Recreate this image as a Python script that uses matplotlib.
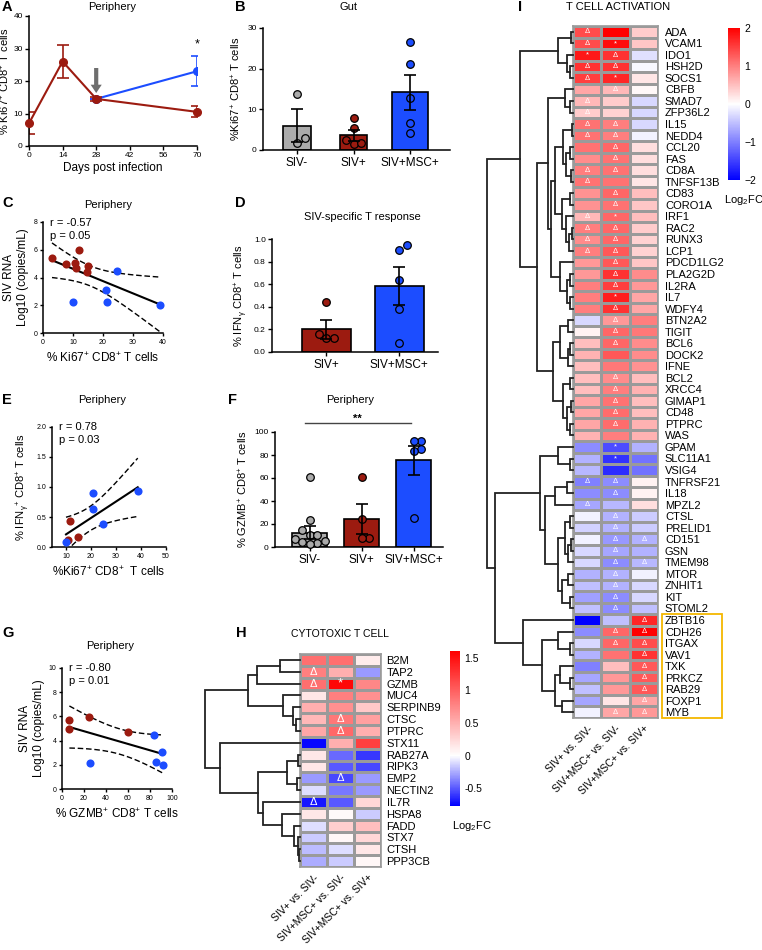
import numpy as np
import matplotlib
matplotlib.use("Agg")
import matplotlib.pyplot as plt
from matplotlib.colors import LinearSegmentedColormap, Normalize
from matplotlib.cm import ScalarMappable
from matplotlib.patches import Rectangle

plt.rcParams['font.family'] = ['Liberation Sans', 'DejaVu Sans']
plt.rcParams['mathtext.fontset'] = 'custom'
plt.rcParams['mathtext.rm'] = 'Liberation Sans'
plt.rcParams['mathtext.it'] = 'Liberation Sans:italic'
plt.rcParams['mathtext.bf'] = 'Liberation Sans:bold'
plt.rcParams['mathtext.default'] = 'regular'
plt.rcParams['axes.linewidth'] = 1.1

RED = '#9c1b10'
BLUE = '#1c4dff'
GREY = '#ababab'

# ---- A: Ki67 over time
A_days = [0, 14, 28, 70]
A_siv = [7, 26, 14.5, 10.5]
A_siv_sem = [3.4, 5, 0.5, 1.7]
A_msc_days = [28, 70]
A_msc = [14.5, 23]
A_msc_sem = [0, 4.6]

# ---- bar panels
groups3 = ['SIV-', 'SIV+', 'SIV+MSC+']
B_means = [6.0, 3.6, 14.2]
B_sems = [4.0, 1.4, 4.3]
B_points = [[13.7, 1.8, 2.9], [7.8, 5.3, 2.5, 1.5, 1.6], [26.5, 21.1, 12.9, 6.7, 4.1]]

D_groups = ['SIV+', 'SIV+MSC+']
D_means = [0.2, 0.585]
D_sems = [0.085, 0.165]
D_points = [[0.44, 0.16, 0.12, 0.12], [0.95, 0.90, 0.64, 0.38, 0.08]]

F_means = [12.5, 24.2, 75.5]
F_sems = [5.5, 13.2, 12.5]
F_points = [[60.9, 23.2, 15.1, 10.1, 10.1, 7.2, 5.2, 4.3, 3.5, 2.9],
            [61, 24, 7.5, 7.5],
            [92.5, 92, 85.5, 83.5, 25.5]]

# ---- correlation panels
C_red_x = [3, 7.6, 10.6, 11, 12.1, 15.1, 14.7]
C_red_y = [5.4, 4.96, 5.06, 4.65, 5.97, 4.82, 4.42]
C_blue_x = [10, 21, 21.2, 24.8, 38.9]
C_blue_y = [2.22, 3.1, 2.2, 4.5, 2.0]
C_stats = "r = -0.57\np = 0.05"

E_red_x = [11.7, 10.7, 14.8]
E_red_y = [0.44, 0.12, 0.16]
E_blue_x = [10, 20.7, 20.8, 24.7, 38.7]
E_blue_y = [0.08, 0.9, 0.635, 0.38, 0.94]
E_stats = "r = 0.78\np = 0.03"

G_red_x = [6.7, 6.7, 24.2, 60]
G_red_y = [5.73, 4.99, 5.95, 4.71]
G_blue_x = [25.2, 83.3, 91, 85, 91.8]
G_blue_y = [2.18, 4.43, 3.06, 2.2, 2.0]
G_stats = "r = -0.80\np = 0.01"

# two-sided 95% t critical values (df = n - 2)
T_CRIT = {10: 2.228, 6: 2.447, 7: 2.365}

# ---- heatmaps
comparisons = ['SIV+ vs. SIV-', 'SIV+MSC+ vs. SIV-', 'SIV+MSC+ vs. SIV+']

H_genes = ['B2M', 'TAP2', 'GZMB', 'MUC4', 'SERPINB9', 'CTSC', 'PTPRC', 'STX11', 'RAB27A',
           'RIPK3', 'EMP2', 'NECTIN2', 'IL7R', 'HSPA8', 'FADD', 'STX7', 'CTSH', 'PPP3CB']
H_values = [
    [0.9, 0.9, 0.12], [0.8, 0.5, -0.3], [0.9, 1.55, 0.75], [0.15, 0.8, 0.7],
    [0.5, 0.7, 0.35], [0.45, 0.85, 0.6], [0.55, 0.95, 0.5], [-0.75, 0.5, 1.2],
    [0.15, -0.45, -0.6], [0.15, -0.5, -0.55], [-0.3, -0.55, -0.3], [-0.1, -0.4, -0.3],
    [-0.7, -0.5, 0.25], [0.15, 0.04, -0.15], [-0.1, 0.3, 0.4], [-0.15, 0.05, 0.25],
    [-0.2, -0.1, 0.15], [-0.25, -0.15, 0.05],
]
H_marks = ["   ", "Δ  ", "Δ* ", "   ", "   ", " Δ ", " Δ ", "   ", "   ",
           "   ", " Δ ", "   ", "Δ  ", "   ", "   ", "   ", "   ", "   "]
# dendrogram: (left, right, height)
H_tree = (((((0, 1, 20), 2, 43), (3, (4, (5, 6, 4), 7), 17), 52)),
          (7, (((8, 9, 2), (10, 11, 3), 13),
               (12, (13, (14, (15, (16, 17, 1), 2), 6), 18), 37), 42), 80), 95)

I_genes = ['ADA', 'VCAM1', 'IDO1', 'HSH2D', 'SOCS1', 'CBFB', 'SMAD7', 'ZFP36L2', 'IL15', 'NEDD4',
           'CCL20', 'FAS', 'CD8A', 'TNFSF13B', 'CD83', 'CORO1A', 'IRF1', 'RAC2', 'RUNX3', 'LCP1',
           'PDCD1LG2', 'PLA2G2D', 'IL2RA', 'IL7', 'WDFY4', 'BTN2A2', 'TIGIT', 'BCL6', 'DOCK2', 'IFNE',
           'BCL2', 'XRCC4', 'GIMAP1', 'CD48', 'PTPRC', 'WAS', 'GPAM', 'SLC11A1', 'VSIG4', 'TNFRSF21',
           'IL18', 'MPZL2', 'CTSL', 'PRELID1', 'CD151', 'GSN', 'TMEM98', 'MTOR', 'ZNHIT1', 'KIT',
           'STOML2', 'ZBTB16', 'CDH26', 'ITGAX', 'VAV1', 'TXK', 'PRKCZ', 'RAB29', 'FOXP1', 'MYB']
I_values = [
    [1.4, 2.0, 0.4], [1.4, 1.9, 0.45], [1.8, 1.6, -0.25], [1.6, 1.6, -0.05], [1.5, 1.7, 0.2],
    [0.7, 0.55, 0.05], [0.55, 0.4, -0.3], [0.4, 0.35, -0.3], [1.1, 1.0, -0.3], [1.1, 1.0, -0.1],
    [1.1, 1.2, 0.25], [0.9, 1.1, 0.25], [1.0, 1.1, 0.25], [1.1, 1.1, 0.2], [0.85, 1.2, 0.5],
    [0.85, 1.1, 0.45], [0.55, 1.2, 0.5], [1.0, 1.2, 0.4], [0.9, 1.2, 0.35], [1.0, 1.3, 0.35],
    [0.8, 1.3, 0.45], [0.8, 1.6, 0.9], [1.0, 1.5, 0.8], [1.0, 1.75, 0.7], [1.0, 1.6, 0.7],
    [-0.3, 0.8, 1.0], [0.1, 1.2, 1.05], [0.5, 1.2, 0.9], [0.6, 1.3, 0.9], [0.5, 1.05, 0.85],
    [0.5, 0.9, 0.5], [0.5, 1.0, 0.6], [0.7, 1.1, 0.5], [0.7, 1.15, 0.5], [0.7, 1.15, 0.6],
    [0.6, 1.0, 0.6], [-0.9, -1.4, -0.6], [-0.6, -1.6, -1.1], [-0.55, -1.65, -1.1], [-1.0, -0.9, 0.1],
    [-0.9, -0.9, 0.1], [-0.7, -0.55, 0.25], [-0.1, -0.6, -0.4], [-0.35, -0.6, -0.4], [-0.1, -0.8, -0.6],
    [-0.3, -0.7, -0.6], [-0.3, -0.9, -0.55], [-0.6, -0.6, -0.1], [-0.5, -0.6, -0.3], [-0.75, -0.9, -0.3],
    [-0.5, -0.9, -0.5], [-2.0, -0.5, 1.7], [-0.9, 1.2, 2.0], [-0.3, 1.2, 1.4], [-0.6, 1.1, 1.6],
    [-1.0, 0.5, 1.3], [-0.7, 0.8, 1.3], [-0.5, 0.8, 1.3], [-0.7, 0.2, 0.7], [-0.1, 0.7, 0.8],
]
I_marks = ["Δ  ", "Δ* ", "*Δ ", "ΔΔ ", "Δ* ", " Δ ", "Δ  ", "Δ  ", "ΔΔ ", "ΔΔ ",
           " Δ ", " Δ ", "ΔΔ ", "Δ  ", " Δ ", " Δ ", "Δ* ", "ΔΔ ", "ΔΔ ", "ΔΔ ",
           " Δ ", " Δ ", " Δ ", " * ", " Δ ", " Δ ", " Δ ", " Δ ", "   ", "   ",
           " Δ ", " Δ ", " Δ ", " Δ ", " Δ ", "   ", " * ", " * ", "   ", "ΔΔ ",
           " Δ ", "Δ  ", " Δ ", " Δ ", " ΔΔ", " Δ ", " ΔΔ", " Δ ", " Δ ", " Δ ",
           " Δ ", "  Δ", " ΔΔ", " ΔΔ", "  Δ", "  Δ", "  Δ", "  Δ", "  Δ", " ΔΔ"]
_I_red = ((((0, 1, 2), (2, (3, 4, 3), 6), 15)),
          (((5, (6, 7, 3), 8),
            ((((8, 9, 1), ((10, 11, 3), (12, 13, 2), 7), 10),
              ((14, 15, 3), (16, ((17, 18, 1), 19, 4), 7), 11), 18),
             (20, ((21, 22, 3), (23, 24, 3), 6), 13), 22), 25),
           ((((25, 26, 5), ((27, 28, 3), 29, 5), 13)),
            ((30, 31, 3), ((32, 33, 2), (34, 35, 3), 6), 10), 20), 36), 53)
_I_blue = ((36, (37, 38, 3), 15),
           (((39, 40, 6), 41, 18),
            (((42, 43, 3), ((44, 45, 2), 46, 5), 8), ((47, 48, 5), (49, 50, 3), 11), 15), 28), 33)
_I_box = (51, ((52, (53, 54, 3), 15),
               ((55, (56, 57, 3), 13), (58, 59, 11), 18), 31), 50)
I_tree = (_I_red, (_I_blue, _I_box, 78), 86)

W, H = 762, 950
fig = plt.figure(figsize=(W / 100, H / 100), dpi=100)


def px_ax(x0, y0, x1, y1):
    return fig.add_axes([x0 / W, 1 - y1 / H, (x1 - x0) / W, (y1 - y0) / H])


def px_text(x, y, s, **kw):
    fig.text(x / W, 1 - y / H, s, **kw)


def style(ax, fs):
    for s in ['top', 'right']:
        ax.spines[s].set_visible(False)
    ax.tick_params(labelsize=fs, length=3, width=1, pad=1.5)


def swarm(ys, xpu, ypu, d=7.6):
    # simple beeswarm in pixel space, returns x offsets in data units
    placed = []
    offs = np.zeros(len(ys))
    cand = [0]
    for k in range(1, 12):
        cand += [k * d * 0.5, -k * d * 0.5]
    for idx in np.argsort(ys):
        yp = ys[idx] * ypu
        for xo in cand:
            if all((xo - px) ** 2 + (yp - py) ** 2 >= (d * 0.95) ** 2 for px, py in placed):
                break
        placed.append((xo, yp))
        offs[idx] = xo / xpu
    return offs


def bar_panel(ax, labels, means, sems, points, colors, widths, xlim, ylim):
    x = np.arange(len(means))
    ax.set_xlim(*xlim)
    ax.set_ylim(*ylim)
    ax.bar(x, means, width=widths, color=colors, edgecolor='black', linewidth=1.2, zorder=1)
    ax.errorbar(x, means, yerr=sems, fmt='none', ecolor='black', elinewidth=1.2,
                capsize=4, capthick=1.2, zorder=4)
    pos = ax.get_position()
    xpu = pos.width * W / (xlim[1] - xlim[0])
    ypu = pos.height * H / (ylim[1] - ylim[0])
    for i, pts in enumerate(points):
        pts = np.array(pts, dtype=float)
        off = swarm(pts, xpu, ypu)
        ax.scatter(i + off, pts, s=30, color=colors[i], edgecolor='black', linewidth=0.9,
                   zorder=3, clip_on=False)
    style(ax, 6)
    ax.set_xticks(x, labels, fontsize=8.5)
    ax.tick_params(axis='x', length=3, pad=2)


def corr_panel(ax, xr, yr, xb, yb, stats, xlim, ylim):
    x = np.r_[xr, xb]
    y = np.r_[yr, yb]
    n = len(x)
    slope, icpt = np.polyfit(x, y, 1)
    xs = np.linspace(x.min(), x.max(), 60)
    fit = slope * xs + icpt
    s = np.sqrt(np.sum((y - (slope * x + icpt)) ** 2) / (n - 2))
    sxx = np.sum((x - x.mean()) ** 2)
    hw = T_CRIT[n - 2] * s * np.sqrt(1 / n + (xs - x.mean()) ** 2 / sxx)
    ax.plot(xs, fit, color='black', lw=1.5, zorder=2)
    ax.plot(xs, fit + hw, color='black', lw=1, ls=(0, (4, 2)), zorder=2)
    ax.plot(xs, fit - hw, color='black', lw=1, ls=(0, (4, 2)), zorder=2)
    ax.scatter(xr, yr, s=34, color=RED, zorder=3, clip_on=False, linewidths=0)
    ax.scatter(xb, yb, s=34, color=BLUE, zorder=3, clip_on=False, linewidths=0)
    ax.set_xlim(*xlim)
    ax.set_ylim(*ylim)
    ax.text(0.06, 1.04, stats, transform=ax.transAxes, va='top', fontsize=8, linespacing=1.4)
    style(ax, 5)
    ax.tick_params(length=2.5)


def draw_tree(ax, node):
    if isinstance(node, int):
        return node + 0.5, 0
    left, right, h = node
    yl, hl = draw_tree(ax, left)
    yr, hr = draw_tree(ax, right)
    ax.plot([hl, h, h, hr], [yl, yl, yr, yr], color='#222222', lw=1.3, clip_on=False,
            solid_joinstyle='miter')
    return (yl + yr) / 2, h


def heat_panel(x0, y0, x1, y1, values, genes, marks, tree, dendro_w, cmap, norm,
               mark_fs, star_fs, gene_pad):
    ax = px_ax(x0, y0, x1, y1)
    vals = np.array(values)
    n = len(genes)
    ax.pcolormesh(np.arange(4), np.arange(n + 1), vals, cmap=cmap, norm=norm,
                  edgecolors='#9a9a9a', linewidth=1.0)
    ax.set_xlim(0, 3)
    ax.set_ylim(n, 0)
    for sp in ax.spines.values():
        sp.set_color('#9a9a9a')
        sp.set_linewidth(1.2)
    for r, row in enumerate(marks):
        for c, ch in enumerate(row):
            if ch != ' ':
                ax.text(c + 0.5, r + 0.52, ch, color='white', ha='center', va='center',
                        fontsize=mark_fs if ch == 'Δ' else star_fs)
    ax.yaxis.tick_right()
    ax.set_yticks(np.arange(n) + 0.5, genes, fontsize=8)
    ax.tick_params(axis='y', length=0, pad=gene_pad)
    ax.set_xticks(np.arange(3) + 0.5, comparisons, rotation=45, ha='right',
                  rotation_mode='anchor', fontsize=7.5)
    ax.tick_params(axis='x', length=0, pad=4)
    dx = px_ax(x0 - dendro_w, y0, x0, y1)
    draw_tree(dx, tree)
    dx.set_xlim(dendro_w, 0)
    dx.set_ylim(n, 0)
    dx.axis('off')
    return ax


# ---------------- A
ax = px_ax(29, 16, 197, 146)
ax.errorbar(A_msc_days, A_msc, yerr=A_msc_sem, fmt='none', ecolor=BLUE, elinewidth=1.2,
            capsize=4, capthick=1.2)
ax.plot(A_msc_days, A_msc, color=BLUE, marker='o', ms=5.5, lw=1.5)
ax.errorbar(A_days, A_siv, yerr=A_siv_sem, fmt='none', ecolor=RED, elinewidth=1.2,
            capsize=4, capthick=1.2)
ax.plot(A_days, A_siv, color=RED, marker='o', ms=5.5, lw=1.5, clip_on=False, zorder=3)
ax.annotate('', xy=(28, 16.3), xytext=(28, 24),
            arrowprops=dict(facecolor='#6e6e6e', edgecolor='none', width=3, headwidth=8, headlength=6))
ax.text(70, 30.3, '*', ha='center', fontsize=9)
ax.set_xlim(0, 70)
ax.set_ylim(0, 40)
ax.set_xticks(range(0, 71, 14))
ax.set_yticks(range(0, 41, 10))
style(ax, 6)
ax.set_xlabel('Days post infection', fontsize=8.5, labelpad=2)
ax.set_ylabel('% Ki67$^{+}$ CD8$^{+}$ T cells', fontsize=8, labelpad=1)

# ---------------- B
ax = px_ax(263, 28, 450, 150)
bar_panel(ax, groups3, B_means, B_sems, B_points, [GREY, RED, BLUE], [0.5, 0.48, 0.63],
          (-0.6, 2.7), (0, 30))
ax.set_yticks(range(0, 31, 10))
ax.set_ylabel('%Ki67$^{+}$ CD8$^{+}$ T cells', fontsize=8, labelpad=3)

# ---------------- C
ax = px_ax(43, 222, 163, 333)
corr_panel(ax, C_red_x, C_red_y, C_blue_x, C_blue_y, C_stats, (0, 40), (0, 8))
ax.set_xticks(range(0, 41, 10))
ax.set_yticks(range(0, 9, 2))
ax.set_xlabel('% Ki67$^{+}$ CD8$^{+}$ T cells', fontsize=8.5, labelpad=4)
ax.set_ylabel('SIV RNA\nLog10 (copies/mL)', fontsize=8.5, labelpad=3, multialignment='center')

# ---------------- D
ax = px_ax(272, 239, 438, 352)
bar_panel(ax, D_groups, D_means, D_sems, D_points, [RED, BLUE], [0.67, 0.67],
          (-0.74, 1.53), (0, 1))
ax.set_yticks(np.arange(0, 1.01, 0.2), ['0.0', '0.2', '0.4', '0.6', '0.8', '1.0'])
ax.set_ylabel('% IFN$_{\\gamma}$ CD8$^{+}$ T cells', fontsize=8, labelpad=3)

# ---------------- E
ax = px_ax(52, 427, 166, 547)
corr_panel(ax, E_red_x, E_red_y, E_blue_x, E_blue_y, E_stats, (4.4, 50), (0, 2))
ax.set_xticks(range(10, 51, 10))
ax.set_yticks([0, 0.5, 1.0, 1.5, 2.0], ['0.0', '0.5', '1.0', '1.5', '2.0'])
ax.set_xlabel('%Ki67$^{+}$ CD8$^{+}$  T cells', fontsize=8.5, labelpad=4)
ax.set_ylabel('% IFN$_{\\gamma}$$^{+}$ CD8$^{+}$ T cells', fontsize=8, labelpad=3)

# ---------------- F
ax = px_ax(275, 432, 443, 547)
bar_panel(ax, groups3, F_means, F_sems, F_points, [GREY, RED, BLUE], [0.67, 0.67, 0.67],
          (-0.67, 2.56), (0, 100))
ax.set_yticks(range(0, 101, 20))
ax.set_ylabel('% GZMB$^{+}$ CD8$^{+}$ T cells', fontsize=8, labelpad=3)
ax.plot([-0.1, 1.94], [107.8, 107.8], color='#444444', lw=1, clip_on=False)
ax.text(0.92, 107.5, '**', ha='center', va='bottom', fontsize=8, fontweight='bold')

# ---------------- G
ax = px_ax(62, 668, 172, 789)
corr_panel(ax, G_red_x, G_red_y, G_blue_x, G_blue_y, G_stats, (0, 100), (0, 10))
ax.set_xticks(range(0, 101, 20))
ax.set_yticks(range(0, 11, 2))
ax.set_xlabel('% GZMB$^{+}$ CD8$^{+}$ T cells', fontsize=8.5, labelpad=4)
ax.set_ylabel('SIV RNA\nLog10 (copies/mL)', fontsize=8.5, labelpad=3, multialignment='center')

# ---------------- H heatmap
h_min, h_max = -0.77, 1.6
h_cmap = LinearSegmentedColormap.from_list(
    'h', [(0, '#0000ff'), (-h_min / (h_max - h_min), '#ffffff'), (1, '#ff0000')])
h_norm = Normalize(h_min, h_max)
heat_panel(300, 654, 381, 867, H_values, H_genes, H_marks, H_tree, 95, h_cmap, h_norm,
           8, 9.5, 4)
cax = px_ax(450, 651, 460, 806)
cb = fig.colorbar(ScalarMappable(norm=h_norm, cmap=h_cmap), cax=cax)
cb.outline.set_visible(False)
cb.set_ticks([1.5, 1, 0.5, 0, -0.5], labels=['1.5', '1', '0.5', '0', '-0.5'])
cax.tick_params(length=0, labelsize=7.5, pad=3)
px_text(452, 826, 'Log$_{2}$FC', fontsize=8, va='center')

# ---------------- I heatmap
i_cmap = LinearSegmentedColormap.from_list('i', ['#0000ff', '#ffffff', '#ff0000'])
i_norm = Normalize(-2, 2)
heat_panel(573, 26, 658, 718, I_values, I_genes, I_marks, I_tree, 90, i_cmap, i_norm,
           5.5, 5.5, 5)
cax = px_ax(728, 28, 740, 180)
cb = fig.colorbar(ScalarMappable(norm=i_norm, cmap=i_cmap), cax=cax)
cb.outline.set_visible(False)
cb.set_ticks([2, 1, 0, -1, -2])
cax.tick_params(length=0, labelsize=7.5, pad=3)
px_text(724, 200, 'Log$_{2}$FC', fontsize=8, va='center')
fig.patches.append(Rectangle((662 / W, 1 - 718 / H), (722 - 662) / W, (718 - 614) / H,
                             transform=fig.transFigure, fill=False, edgecolor='#f5b700', lw=1.3))

# ---------------- titles and letters
px_text(112, 7, 'Periphery', fontsize=8, ha='center', va='center')
px_text(348, 7, 'Gut', fontsize=8, ha='center', va='center')
px_text(108, 205, 'Periphery', fontsize=8, ha='center', va='center')
px_text(362, 217, 'SIV-specific T response', fontsize=8, ha='center', va='center')
px_text(102, 400, 'Periphery', fontsize=8, ha='center', va='center')
px_text(350, 400, 'Periphery', fontsize=8, ha='center', va='center')
px_text(110, 646, 'Periphery', fontsize=8, ha='center', va='center')
px_text(291, 634, 'CYTOTOXIC T CELL', fontsize=7.5, va='center')
px_text(566, 7, 'T CELL ACTIVATION', fontsize=8, va='center')

for letter, lx, ly in [('A', 2, 0), ('B', 235, 0), ('C', 2, 196), ('D', 235, 196),
                       ('E', 2, 393), ('F', 228, 393), ('G', 2, 626), ('H', 236, 626),
                       ('I', 518, 0)]:
    px_text(lx, ly, letter, fontsize=10.5, fontweight='bold', va='top')

plt.savefig("out.png", dpi=100)
plt.close()
